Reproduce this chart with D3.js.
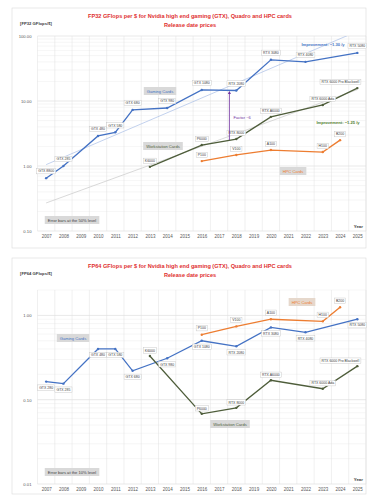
<!DOCTYPE html>
<html>
<head>
<meta charset="utf-8">
<script src="https://cdn.jsdelivr.net/npm/d3@7"></script>
<style>
  body { margin: 0; background: #fff; }
  svg { display: block; font-family: "Liberation Sans", Arial, sans-serif; }
</style>
</head>
<body>
<svg id="chart" width="368" height="496"></svg>
<script>
const years = d3.range(2007, 2026);

// gaming cards
const gamingYears = [2007, 2008, 2010, 2011, 2012, 2014, 2016, 2018, 2020, 2022, 2025];
const gamingNames32 = ["GTX 8800", "GTX 285", "GTX 480", "GTX 580", "GTX 680", "GTX 980", "GTX 1080", "RTX 2080", "RTX 3080", "RTX 4080", "RTX 5080"];
const gamingNames64 = ["GTX 280", "GTX 285", "GTX 480", "GTX 580", "GTX 680", "GTX 980", "GTX 1080", "RTX 2080", "RTX 3080", "RTX 4080", "RTX 5080"];
const gamingFp32 = [0.65, 1.0, 2.9, 3.3, 7.3, 7.8, 14.8, 14.5, 43, 40, 55];
const gamingFp64 = [0.164, 0.155, 0.40, 0.40, 0.22, 0.31, 0.50, 0.43, 0.72, 0.63, 0.90];

// workstation cards
const wsYears = [2013, 2016, 2018, 2020, 2023, 2025];
const wsNames = ["K6000", "P6000", "RTX 8000", "RTX A6000", "RTX 6000 Ada", "RTX 6000 Pro Blackwell"];
const wsFp32 = [0.97, 2.1, 2.6, 5.7, 8.7, 15.8];
const wsFp64 = [0.33, 0.068, 0.080, 0.17, 0.135, 0.25];

// HPC cards
const hpcYears = [2016, 2018, 2020, 2023, 2024];
const hpcNames = ["P100", "V100", "A100", "H100", "B200"];
const hpcFp32 = [1.19, 1.48, 1.76, 1.64, 2.5];
const hpcFp64 = [0.59, 0.74, 0.90, 0.85, 1.25];

// trend lines (FP32 only): value in 2007 and yearly factor
const trendGaming = [1.05, 1.30];
const trendWs = [0.27, 1.25];

const colGaming = "#4472c4", colWs = "#4e5d3a", colHpc = "#ed7d31";

const svg = d3.select("#chart");
const x = d3.scaleLinear().domain([2006.5, 2025.5]).range([37.5, 366]);

function zip(ys, vs, names) {
  return ys.map((yr, i) => ({ year: yr, v: vs[i], name: names[i] }));
}

function drawPanel(cfg) {
  const g = svg.append("g");
  const y = d3.scaleLog().domain(cfg.domain).range([cfg.plotBottom, cfg.plotTop]);

  g.append("rect").attr("x", 12).attr("y", cfg.top).attr("width", 354).attr("height", cfg.bottom - cfg.top)
    .attr("fill", "#fff").attr("stroke", "#d9d9d9").attr("stroke-width", 0.6);

  // grid
  const minor = y.ticks().filter(t => t >= cfg.domain[0] && t <= cfg.domain[1]);
  g.selectAll("line.hg").data(minor).enter().append("line")
    .attr("x1", x.range()[0]).attr("x2", x.range()[1])
    .attr("y1", d => y(d)).attr("y2", d => y(d))
    .attr("stroke", d => Math.abs(Math.log10(d) % 1) < 1e-6 ? "#d0d0d0" : "#ececec")
    .attr("stroke-width", 0.5);
  g.selectAll("line.vg").data(d3.range(2006.5, 2026, 1)).enter().append("line")
    .attr("x1", d => x(d)).attr("x2", d => x(d))
    .attr("y1", cfg.plotTop).attr("y2", cfg.plotBottom)
    .attr("stroke", "#e0e0e0").attr("stroke-width", 0.5);

  // axes
  const ya = g.append("g").attr("transform", `translate(${x.range()[0] - 3},0)`)
    .call(d3.axisLeft(y).tickValues(cfg.majors).tickFormat(d3.format(".2f")).tickSize(0).tickPadding(3));
  ya.select(".domain").remove();
  ya.selectAll("text").attr("font-size", 4.2).attr("fill", "#595959");

  const xa = g.append("g").attr("transform", `translate(0,${cfg.plotBottom})`)
    .call(d3.axisBottom(x).tickValues(years).tickFormat(d3.format("d")).tickSize(0).tickPadding(4));
  xa.select(".domain").remove();
  xa.selectAll("text").attr("font-size", 4.5).attr("fill", "#595959");

  // titles
  g.append("text").attr("x", 190).attr("y", cfg.top + 10).attr("text-anchor", "middle")
    .attr("font-size", 5.6).attr("font-weight", "bold").attr("fill", "#e03030").text(cfg.title);
  g.append("text").attr("x", 190).attr("y", cfg.top + 18.5).attr("text-anchor", "middle")
    .attr("font-size", 5.6).attr("font-weight", "bold").attr("fill", "#e03030").text("Release date prices");
  g.append("text").attr("x", 20).attr("y", cfg.top + 17).attr("font-size", 4.2).attr("font-weight", "bold")
    .attr("fill", "#404040").text(cfg.yLabel);
  g.append("text").attr("x", 363).attr("y", cfg.plotBottom - 3.5).attr("text-anchor", "end")
    .attr("font-size", 4.4).attr("font-weight", "bold").attr("fill", "#404040").text("Year");

  const clip = "clip" + cfg.id;
  g.append("clipPath").attr("id", clip).append("rect")
    .attr("x", x.range()[0]).attr("y", cfg.plotTop)
    .attr("width", x.range()[1] - x.range()[0]).attr("height", cfg.plotBottom - cfg.plotTop);

  // trend lines
  (cfg.trends || []).forEach(t => {
    g.append("line").attr("clip-path", `url(#${clip})`)
      .attr("x1", x(2007)).attr("y1", y(t.p[0]))
      .attr("x2", x(2025)).attr("y2", y(t.p[0] * Math.pow(t.p[1], 18)))
      .attr("stroke", t.color).attr("stroke-width", 0.7);
  });

  const line = d3.line().x(d => x(d.year)).y(d => y(d.v));
  cfg.series.forEach(s => {
    g.append("path").datum(s.data).attr("d", line).attr("fill", "none")
      .attr("stroke", s.color).attr("stroke-width", 1.3);
    g.selectAll(null).data(s.data).enter().append("circle")
      .attr("cx", d => x(d.year)).attr("cy", d => y(d.v)).attr("r", 1.2).attr("fill", s.color);
  });

  // data labels
  cfg.series.forEach(s => {
    s.data.forEach(d => {
      const last = d.name.length > 14;
      const lx = x(d.year) - (last ? 17 : 0);
      const ly = y(d.v) + s.dy;
      const lg = g.append("g");
      const t = lg.append("text").attr("x", lx).attr("y", ly + 1.25).attr("text-anchor", "middle")
        .attr("font-size", 3.5).attr("fill", "#404040").text(d.name);
      const bb = t.node().getBBox();
      lg.insert("rect", "text").attr("x", bb.x - 1.5).attr("y", ly - 2.7)
        .attr("width", bb.width + 3).attr("height", 5.4)
        .attr("fill", "#fff").attr("stroke", "#bfbfbf").attr("stroke-width", 0.4);
    });
  });

  // annotation boxes
  cfg.boxes.forEach(b => {
    const bg = g.append("g");
    const t = bg.append("text").attr("x", b.x).attr("y", b.y + 1.5).attr("text-anchor", "middle")
      .attr("font-size", 4.1).attr("fill", b.color).text(b.text);
    const bb = t.node().getBBox();
    bg.insert("rect", "text").attr("x", bb.x - 3).attr("y", b.y - 4)
      .attr("width", bb.width + 6).attr("height", 8).attr("fill", b.fill || "#d9d9d9");
  });

  return { g, y };
}

const fp32Panel = drawPanel({
  id: 1, top: 8, bottom: 248, plotTop: 36, plotBottom: 231,
  domain: [0.1, 100], majors: [0.1, 1, 10, 100],
  title: "FP32 GFlops per $ for Nvidia high end gaming (GTX), Quadro and HPC cards",
  yLabel: "[FP32 GFlops/$]",
  trends: [{ p: trendGaming, color: "#a9bfe6" }, { p: trendWs, color: "#c8c8c8" }],
  series: [
    { data: zip(gamingYears, gamingFp32, gamingNames32), color: colGaming, dy: -7 },
    { data: zip(wsYears, wsFp32, wsNames), color: colWs, dy: -6 },
    { data: zip(hpcYears, hpcFp32, hpcNames), color: colHpc, dy: -6 }
  ],
  boxes: [
    { x: 160, y: 91, text: "Gaming Cards", color: colGaming },
    { x: 163, y: 146, text: "Workstation Cards", color: colWs },
    { x: 293, y: 171, text: "HPC Cards", color: colHpc },
    { x: 72, y: 220, text: "Error bars at the 50% level", color: "#404040" }
  ]
});

// factor arrow and improvement notes on the FP32 panel
const ay = fp32Panel.y;
fp32Panel.g.append("defs").append("marker").attr("id", "arr").attr("viewBox", "0 0 10 10")
  .attr("refX", 5).attr("refY", 5).attr("markerWidth", 4).attr("markerHeight", 4).attr("orient", "auto")
  .append("path").attr("d", "M0,0L10,5L0,10z").attr("fill", "#7030a0");
fp32Panel.g.append("line").attr("x1", x(2017.6)).attr("x2", x(2017.6))
  .attr("y1", ay(2.5)).attr("y2", ay(13.5))
  .attr("stroke", "#7030a0").attr("stroke-width", 0.8).attr("marker-end", "url(#arr)");
fp32Panel.g.append("text").attr("x", x(2017.6) + 4).attr("y", 119).attr("font-size", 4.1)
  .attr("fill", "#7030a0").text("Factor ~6");
fp32Panel.g.append("text").attr("x", 323).attr("y", 45.5).attr("text-anchor", "middle").attr("font-size", 4.1)
  .attr("font-weight", "bold").attr("fill", colGaming).text("Improvement: ~1.30 /y");
fp32Panel.g.append("text").attr("x", 338).attr("y", 123.5).attr("text-anchor", "middle").attr("font-size", 4.1)
  .attr("font-weight", "bold").attr("fill", "#4e7a2a").text("Improvement: ~1.25 /y");

drawPanel({
  id: 2, top: 258, bottom: 494, plotTop: 290, plotBottom: 484,
  domain: [0.01, 2], majors: [0.01, 0.1, 1],
  title: "FP64 GFlops per $ for Nvidia high end gaming (GTX), Quadro and HPC cards",
  yLabel: "[FP64 GFlops/$]",
  series: [
    { data: zip(gamingYears, gamingFp64, gamingNames64), color: colGaming, dy: 6 },
    { data: zip(wsYears, wsFp64, wsNames), color: colWs, dy: -5.5 },
    { data: zip(hpcYears, hpcFp64, hpcNames), color: colHpc, dy: -6.5 }
  ],
  boxes: [
    { x: 73, y: 338, text: "Gaming Cards", color: colGaming },
    { x: 302, y: 302, text: "HPC Cards", color: colHpc, fill: "#e6d8cc" },
    { x: 230, y: 424, text: "Workstation Cards", color: colWs },
    { x: 72, y: 472, text: "Error bars at the 10% level", color: "#404040" }
  ]
});
</script>
</body>
</html>
